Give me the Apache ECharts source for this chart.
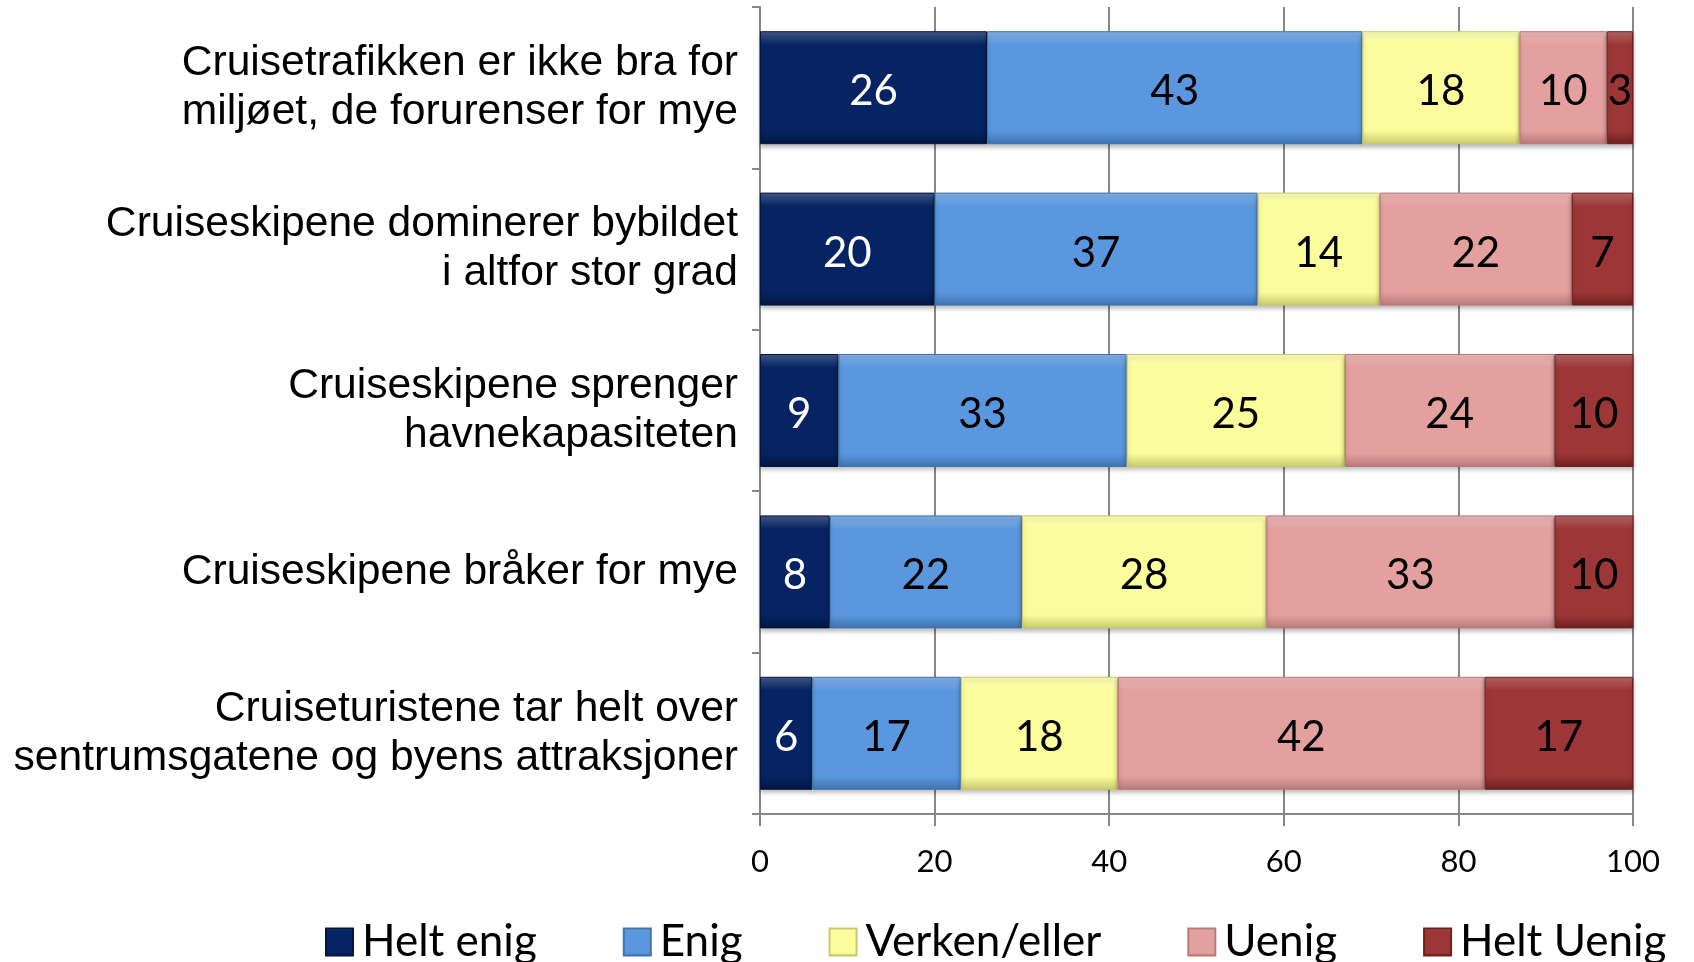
<!DOCTYPE html>
<html>
<head>
<meta charset="utf-8">
<script src="https://cdn.jsdelivr.net/npm/echarts@6/dist/echarts.min.js"></script>
<style>
  html, body { margin: 0; padding: 0; background: #fff; }
  #chart { width: 1694px; height: 962px; }
</style>
</head>
<body>
<div id="chart"></div>
<script>
var categories = [
  "Cruisetrafikken er ikke bra for\nmiljøet, de forurenser for mye",
  "Cruiseskipene dominerer bybildet\ni altfor stor grad",
  "Cruiseskipene sprenger\nhavnekapasiteten",
  "Cruiseskipene bråker for mye",
  "Cruiseturistene tar helt over\nsentrumsgatene og byens attraksjoner"
];
var seriesNames = ["Helt enig", "Enig", "Verken/eller", "Uenig", "Helt Uenig"];
var heltEnig = [26, 20, 9, 8, 6];
var enig = [43, 37, 33, 22, 17];
var verken = [18, 14, 25, 28, 18];
var uenig = [10, 22, 24, 33, 42];
var heltUenig = [3, 7, 10, 10, 17];
var xTicks = [0, 20, 40, 60, 80, 100];

var colors = ["#062463", "#5b97de", "#fbfc9c", "#e3a09f", "#9d3636"];
var edge = ["#031640", "#3f73b3", "#c9c96e", "#b87a79", "#6e2020"];
var labelColors = ["#ffffff", "#000000", "#000000", "#000000", "#000000"];
var values = [heltEnig, enig, verken, uenig, heltUenig];

var chart = echarts.init(document.getElementById("chart"));

function lighten(hex, amt) {
  var n = parseInt(hex.slice(1), 16);
  var r = (n >> 16) & 255, g = (n >> 8) & 255, b = n & 255;
  r = Math.round(r + (255 - r) * amt);
  g = Math.round(g + (255 - g) * amt);
  b = Math.round(b + (255 - b) * amt);
  return "rgb(" + r + "," + g + "," + b + ")";
}

var series = seriesNames.map(function (name, i) {
  return {
    name: name,
    type: "bar",
    stack: "total",
    barCategoryGap: "30%",
    data: values[i],
    itemStyle: {
      color: new echarts.graphic.LinearGradient(0, 0, 0, 1, [
        { offset: 0, color: lighten(colors[i], 0.25) },
        { offset: 0.12, color: colors[i] },
        { offset: 0.88, color: colors[i] },
        { offset: 1, color: edge[i] }
      ]),
      borderColor: edge[i],
      borderWidth: 1,
      shadowColor: "rgba(0,0,0,0.25)",
      shadowBlur: 4,
      shadowOffsetY: 3
    },
    label: {
      show: true,
      position: "inside",
      offset: [0, 4],
      color: labelColors[i],
      fontFamily: "Lato",
      fontSize: 42
    }
  };
});

var option = {
  backgroundColor: "#ffffff",
  animation: false,
  color: colors,
  grid: { left: 760, right: 61, top: 7, bottom: 148 },
  legend: {
    left: 320,
    width: 1500,
    bottom: -7,
    itemWidth: 27,
    itemHeight: 27,
    itemGap: 86,
    icon: "rect",
    textStyle: { fontFamily: "Lato", fontSize: 44, color: "#000", padding: [0, 0, 0, 4] },
    data: seriesNames
  },
  xAxis: {
    type: "value",
    min: 0,
    max: 100,
    interval: 20,
    axisLine: { show: true, lineStyle: { color: "#868686", width: 2 } },
    axisTick: { show: true, length: 12, lineStyle: { color: "#868686", width: 2 } },
    splitLine: { show: true, lineStyle: { color: "#868686", width: 2 } },
    axisLabel: {
      fontFamily: "Lato",
      fontSize: 31,
      color: "#000",
      margin: 32,
      formatter: function (v) { return xTicks.indexOf(v) >= 0 ? String(v) : ""; }
    }
  },
  yAxis: {
    type: "category",
    inverse: true,
    data: categories,
    axisLine: { show: true, lineStyle: { color: "#868686", width: 2 } },
    axisTick: { show: true, length: 8, lineStyle: { color: "#868686", width: 2 } },
    axisLabel: {
      fontFamily: "Liberation Sans",
      fontSize: 42.6,
      lineHeight: 49,
      color: "#000",
      align: "right",
      margin: 22,
      padding: [5, 0, 0, 0]
    }
  },
  series: series
};

chart.setOption(option);
</script>
</body>
</html>
